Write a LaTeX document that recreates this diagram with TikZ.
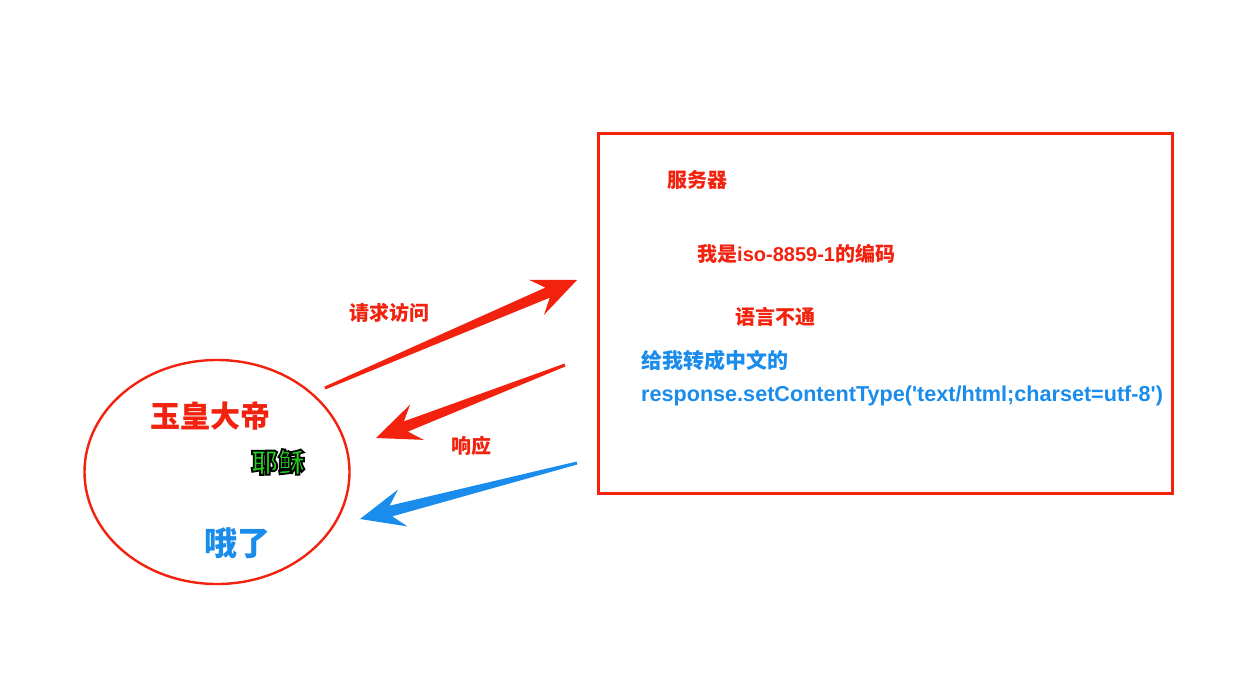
\documentclass[tikz,border=0pt]{standalone}
\usepackage{fontspec}
\usetikzlibrary{calc,shapes.geometric}
\setmainfont{Noto Sans CJK SC}
\newfontfamily\latin{Liberation Sans}[Ligatures=TeXOff]
\definecolor{hotred}{HTML}{F2220F}
\definecolor{skyblue}{HTML}{1A8CEB}
\definecolor{jesusgreen}{HTML}{22D41E}

% tapered arrow: tail, tip, colour
\newcommand{\fatarrow}[3]{%
  \fill[#3] ($(#1)!1.5pt!90:(#2)$)
    -- ($(#2)!32pt!(#1)!5.5pt!90:(#2)$)
    -- ($(#2)!44pt!(#1)!19pt!90:(#2)$)
    -- (#2)
    -- ($(#2)!44pt!(#1)!19pt!-90:(#2)$)
    -- ($(#2)!32pt!(#1)!5.5pt!-90:(#2)$)
    -- ($(#1)!1.5pt!-90:(#2)$) -- cycle;}

\begin{document}
\begin{tikzpicture}[x=1pt, y=-1pt, font=\bfseries,
  txt/.style={inner sep=0pt, anchor=west},
  outlined/.style={inner sep=0pt}]
  \useasboundingbox[fill=white] (0,0) rectangle (1239,699);

  % client and server
  \node[draw=hotred, line width=2.4pt, ellipse, minimum width=265pt, minimum height=224pt] (client) at (217,472) {};
  \node[draw=hotred, line width=3pt, minimum width=574pt, minimum height=360pt] (server) at (885,313) {};

  \node[txt, text=hotred, font=\bfseries\fontsize{30}{33}\selectfont] (yuhuang) at (150,416) {玉皇大帝};
  \node[outlined, font=\bfseries\fontsize{27}{30}\selectfont] (yesu) at (278,462)
    {\color{jesusgreen}\special{pdf:literal direct 2 Tr 1.8 w 0 0 0 RG}耶稣\special{pdf:literal direct 0 Tr}};
  \node[txt, text=skyblue, font=\bfseries\fontsize{33}{36}\selectfont] (ole) at (204,543) {哦了};

  \node[txt, text=hotred, font=\bfseries\fontsize{20}{24}\selectfont] (fuwuqi) at (667,180) {服务器};
  \node[txt, text=hotred, font=\bfseries\fontsize{20}{24}\selectfont] (bianma) at (697,254) {我是{\latin\bfseries iso-8859-1}的编码};
  \node[txt, text=hotred, font=\bfseries\fontsize{20}{24}\selectfont] (butong) at (735,317) {语言不通};
  \node[txt, text=skyblue, font=\bfseries\fontsize{21}{33}\selectfont, align=left] (zhuan) at (641,378)
    {给我转成中文的\\{\latin\bfseries\fontsize{21.6}{33}\selectfont response.setContentType('text/html;charset=utf-8')}};

  \node[text=hotred, font=\bfseries\fontsize{20}{24}\selectfont, inner sep=0pt] (qingqiu) at (389,313) {请求访问};
  \node[text=hotred, font=\bfseries\fontsize{20}{24}\selectfont, inner sep=0pt] (xiangying) at (471,446) {响应};

  % arrows between client and server
  \coordinate (reqS) at (325,388);
  \coordinate (reqE) at (577,280);
  \coordinate (resS) at (565,365);
  \coordinate (resE) at (376,438);
  \coordinate (fixS) at (577,463);
  \coordinate (fixE) at (360,519);
  \fatarrow{reqS}{reqE}{hotred}
  \fatarrow{resS}{resE}{hotred}
  \fatarrow{fixS}{fixE}{skyblue}
\end{tikzpicture}
\end{document}
